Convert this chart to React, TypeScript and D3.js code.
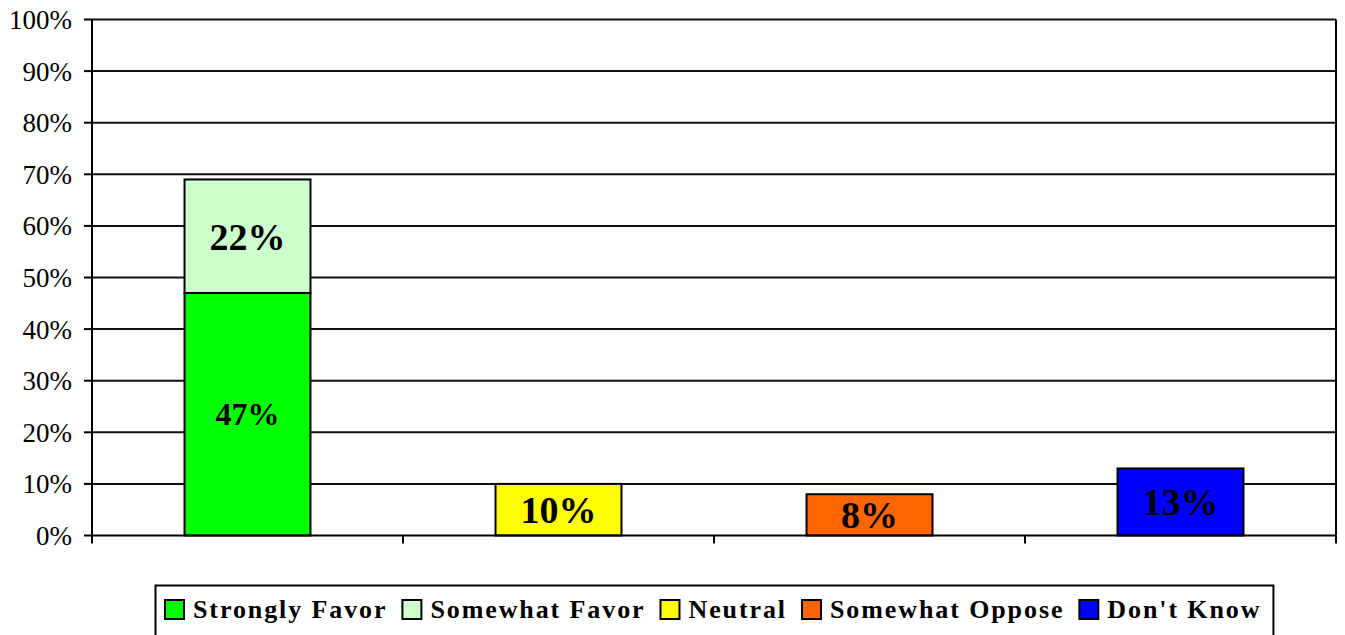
import React, {useEffect, useRef} from 'react';
import * as d3 from 'd3';

const categories = ['Favor', 'Neutral', 'Oppose', "Don't Know"];
const seriesNames = ['Strongly Favor', 'Somewhat Favor', 'Neutral', 'Somewhat Oppose', "Don't Know"];
const seriesColors = ['#00FF00', '#CCFFCC', '#FFFF00', '#FF6600', '#0000FF'];
// value of each series per category (stacked)
const stronglyFavor = [47, 0, 0, 0];
const somewhatFavor = [22, 0, 0, 0];
const neutral = [0, 10, 0, 0];
const somewhatOppose = [0, 0, 8, 0];
const dontKnow = [0, 0, 0, 13];
const yTicks = [0, 10, 20, 30, 40, 50, 60, 70, 80, 90, 100];

const W = 1345;
const H = 635;
const FONT = 'Liberation Serif';

const App = () => {
    const svgRef = useRef(null);

    useEffect(() => {
        const svg = d3.select(svgRef.current);
        svg.selectAll('*').remove();

        const left = 92, right = 1336, top = 19.5, bottom = 535.5;
        const x = d3.scaleBand().domain(categories).range([left, right]).paddingInner(0.595).paddingOuter(0.2975);
        const xb = d3.scaleLinear().domain([0, categories.length]).range([left, right]);
        const y = d3.scaleLinear().domain([0, 100]).range([bottom, top]);

        // gridlines
        svg.append('g')
            .selectAll('line')
            .data(yTicks.filter(t => t > 0))
            .join('line')
            .attr('x1', left).attr('x2', right)
            .attr('y1', d => y(d)).attr('y2', d => y(d))
            .attr('stroke', '#111').attr('stroke-width', 2);

        // right border
        svg.append('line')
            .attr('x1', right).attr('x2', right).attr('y1', top).attr('y2', bottom)
            .attr('stroke', '#000').attr('stroke-width', 2);

        // y axis
        const yAxis = svg.append('g');
        yAxis.append('line')
            .attr('x1', left).attr('x2', left).attr('y1', top).attr('y2', bottom)
            .attr('stroke', '#000').attr('stroke-width', 2);
        yAxis.selectAll('line.tick')
            .data(yTicks)
            .join('line')
            .attr('class', 'tick')
            .attr('x1', left - 8).attr('x2', left)
            .attr('y1', d => y(d)).attr('y2', d => y(d))
            .attr('stroke', '#000').attr('stroke-width', 2);
        yAxis.selectAll('text')
            .data(yTicks)
            .join('text')
            .attr('x', 72)
            .attr('y', d => y(d))
            .attr('dy', '0.35em')
            .attr('text-anchor', 'end')
            .attr('font-family', FONT)
            .attr('font-size', 27)
            .text(d => d + '%');

        // bars
        const series = [stronglyFavor, somewhatFavor, neutral, somewhatOppose, dontKnow];
        const rows = categories.map((c, i) => {
            const r = {cat: c};
            series.forEach((s, j) => r[seriesNames[j]] = s[i]);
            return r;
        });
        const stacked = d3.stack().keys(seriesNames)(rows);
        const segs = [];
        stacked.forEach((layer, j) => {
            layer.forEach(d => {
                if (d[1] - d[0] > 0) segs.push({cat: d.data.cat, y0: d[0], y1: d[1], v: d[1] - d[0], color: seriesColors[j], name: seriesNames[j]});
            });
        });
        svg.append('g')
            .selectAll('rect')
            .data(segs)
            .join('rect')
            .attr('x', d => x(d.cat))
            .attr('width', x.bandwidth())
            .attr('y', d => y(d.y1))
            .attr('height', d => y(d.y0) - y(d.y1))
            .attr('fill', d => d.color)
            .attr('stroke', '#000').attr('stroke-width', 2);
        svg.append('g')
            .selectAll('text')
            .data(segs)
            .join('text')
            .attr('x', d => x(d.cat) + x.bandwidth() / 2)
            .attr('y', d => (y(d.y0) + y(d.y1)) / 2)
            .attr('dy', '0.35em')
            .attr('text-anchor', 'middle')
            .attr('font-family', FONT)
            .attr('font-weight', 'bold')
            .attr('font-size', d => d.name === 'Strongly Favor' ? 32 : 38)
            .text(d => d.v + '%');

        // x axis
        svg.append('line')
            .attr('x1', left).attr('x2', right).attr('y1', bottom).attr('y2', bottom)
            .attr('stroke', '#000').attr('stroke-width', 2);
        svg.append('g')
            .selectAll('line')
            .data(d3.range(categories.length + 1))
            .join('line')
            .attr('x1', d => xb(d)).attr('x2', d => xb(d))
            .attr('y1', bottom).attr('y2', bottom + 8)
            .attr('stroke', '#000').attr('stroke-width', 2);

        // legend
        const lg = svg.append('g');
        const box = lg.append('rect')
            .attr('x', 155.5).attr('y', 585.5).attr('width', 1115).attr('height', 60)
            .attr('fill', '#fff').attr('stroke', '#000').attr('stroke-width', 2);
        let cx = 165;
        let end = cx;
        seriesNames.forEach((name, i) => {
            lg.append('rect')
                .attr('x', cx).attr('y', 600).attr('width', 19).attr('height', 19)
                .attr('fill', seriesColors[i]).attr('stroke', '#000').attr('stroke-width', 2);
            const t = lg.append('text')
                .attr('x', cx + 28).attr('y', 618)
                .attr('font-family', FONT)
                .attr('font-weight', 'bold')
                .attr('font-size', 26)
                .attr('letter-spacing', '1.9px')
                .text(name);
            const w = t.node().getComputedTextLength();
            end = cx + 28 + w;
            cx = end + 15;
        });
        box.attr('width', end + 12 - 155.5);
    }, []);

    return (
        <svg ref={svgRef} width={W} height={H}
             style={{position: 'absolute', left: 0, top: 0, background: '#fff'}}/>
    );
};

export default App;
